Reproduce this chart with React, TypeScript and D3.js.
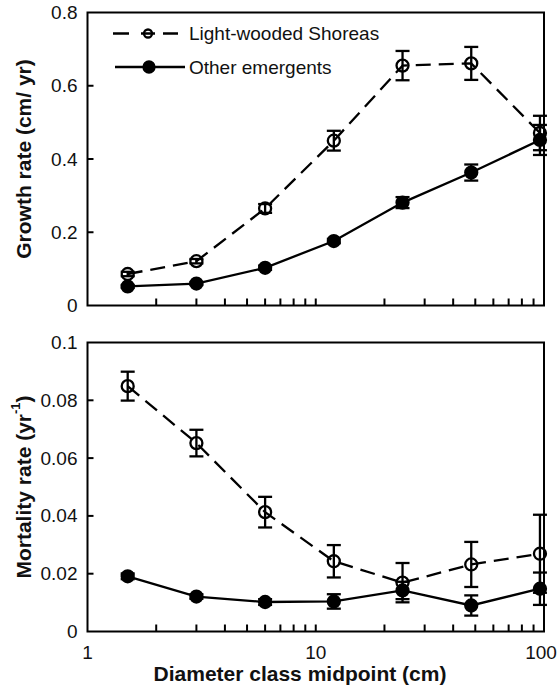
import React from "react";
import * as d3 from "d3";

const WIDTH = 558;
const HEIGHT = 686;

// diameter class midpoints (cm)
const diameters = [1.5, 3, 6, 12, 24, 48, 96];

// growth rate (cm/yr)
const growthShorea = [0.086, 0.121, 0.265, 0.45, 0.655, 0.661, 0.471];
const growthShoreaErr = [0.006, 0.006, 0.012, 0.027, 0.04, 0.045, 0.047];
const growthOther = [0.052, 0.06, 0.103, 0.176, 0.281, 0.363, 0.452];
const growthOtherErr = [0.004, 0.004, 0.006, 0.006, 0.015, 0.022, 0.041];

// mortality rate (1/yr)
const mortShorea = [0.0849, 0.0652, 0.0413, 0.0243, 0.0169, 0.0232, 0.0269];
const mortShoreaErr = [0.005, 0.0046, 0.0053, 0.0056, 0.0068, 0.0078, 0.0135];
const mortOther = [0.0191, 0.0121, 0.0102, 0.0104, 0.0142, 0.009, 0.0148];
const mortOtherErr = [0.001, 0.0008, 0.001, 0.0025, 0.003, 0.0035, 0.0056];

const growthTicks = [0, 0.2, 0.4, 0.6, 0.8];
const growthTickLabels = ["0", "0.2", "0.4", "0.6", "0.8"];
const mortTicks = [0, 0.02, 0.04, 0.06, 0.08, 0.1];
const mortTickLabels = ["0", "0.02", "0.04", "0.06", "0.08", "0.1"];
const xTickValues = [1, 10, 100];
const xTickLabels = ["1", "10", "100"];

const FONT = "'Liberation Sans', Arial, Helvetica, sans-serif";
const DASH = "15,8";
const LW = 2.3;

const x = d3.scaleLog().domain([1, 100]).range([87.5, 544]);

interface Series {
  values: number[];
  errors: number[];
  open: boolean;
}

interface PanelProps {
  top: number;
  bottom: number;
  max: number;
  ticks: number[];
  tickLabels: string[];
  series: Series[];
  showXLabels: boolean;
}

const Panel = ({ top, bottom, max, ticks, tickLabels, series, showXLabels }: PanelProps) => {
  const y = d3.scaleLinear().domain([0, max]).range([bottom, top]);
  const [x0, x1] = x.range();
  const line = d3
    .line<number>()
    .x((_, i) => x(diameters[i]))
    .y((d) => y(d));

  return (
    <g>
      {/* frame */}
      <rect x={x0} y={top} width={x1 - x0} height={bottom - top} fill="none" stroke="#000" strokeWidth={2} />

      {/* y ticks */}
      {ticks.map((t, i) => (
        <g key={`y-${i}`}>
          {i > 0 && i < ticks.length - 1 && (
            <line x1={x0} x2={x0 + 6} y1={y(t)} y2={y(t)} stroke="#000" strokeWidth={2} />
          )}
          <text
            x={x0 - 10}
            y={y(t)}
            textAnchor="end"
            dominantBaseline="central"
            fontSize={19}
            fontFamily={FONT}
            fill="#111"
          >
            {tickLabels[i]}
          </text>
        </g>
      ))}

      {/* x ticks */}
      {x
        .ticks()
        .filter((t) => t > 1 && t < 100)
        .map((t, i) => (
          <line key={`x-${i}`} x1={x(t)} x2={x(t)} y1={bottom} y2={bottom - 7} stroke="#000" strokeWidth={2} />
        ))}
      {showXLabels &&
        xTickValues.map((t, i) => (
          <text
            key={`xl-${i}`}
            x={t === 100 ? x(t) - 3 : x(t)}
            y={bottom + 21}
            textAnchor="middle"
            dominantBaseline="central"
            fontSize={19}
            fontFamily={FONT}
            fill="#111"
          >
            {xTickLabels[i]}
          </text>
        ))}

      {/* series */}
      {series.map((s, si) => (
        <g key={`s-${si}`}>
          <path
            d={line(s.values) || ""}
            fill="none"
            stroke="#000"
            strokeWidth={LW}
            strokeDasharray={s.open ? DASH : undefined}
          />
          {s.values.map((v, i) => {
            const cx = x(diameters[i]);
            const hi = y(v + s.errors[i]);
            const lo = y(v - s.errors[i]);
            return (
              <g key={`e-${i}`} stroke="#000" strokeWidth={LW}>
                <line x1={cx} x2={cx} y1={hi} y2={lo} />
                <line x1={cx - 7} x2={cx + 7} y1={hi} y2={hi} />
                <line x1={cx - 7} x2={cx + 7} y1={lo} y2={lo} />
              </g>
            );
          })}
          {s.values.map((v, i) => (
            <circle
              key={`m-${i}`}
              cx={x(diameters[i])}
              cy={y(v)}
              r={6}
              fill={s.open ? "none" : "#000"}
              stroke="#000"
              strokeWidth={LW}
            />
          ))}
        </g>
      ))}
    </g>
  );
};

export default function App() {
  return (
    <svg
      width={WIDTH}
      height={HEIGHT}
      style={{ position: "absolute", left: 0, top: 0, background: "#fff" }}
    >
      <Panel
        top={12.5}
        bottom={305.5}
        max={0.8}
        ticks={growthTicks}
        tickLabels={growthTickLabels}
        showXLabels={false}
        series={[
          { values: growthShorea, errors: growthShoreaErr, open: true },
          { values: growthOther, errors: growthOtherErr, open: false },
        ]}
      />
      <Panel
        top={342.5}
        bottom={631.5}
        max={0.1}
        ticks={mortTicks}
        tickLabels={mortTickLabels}
        showXLabels={true}
        series={[
          { values: mortShorea, errors: mortShoreaErr, open: true },
          { values: mortOther, errors: mortOtherErr, open: false },
        ]}
      />

      {/* legend */}
      <g stroke="#000" strokeWidth={LW}>
        <line x1={113} x2={178} y1={33.5} y2={33.5} strokeDasharray="16,12,14,8,15" />
        <circle cx={148} cy={33.5} r={4} fill="none" />
        <line x1={115} x2={185} y1={67} y2={67} />
        <circle cx={149} cy={67} r={5.5} fill="#000" />
      </g>
      <g fontSize={19} fontFamily={FONT} fill="#111" dominantBaseline="central">
        <text x={189} y={33.5}>Light-wooded Shoreas</text>
        <text x={189} y={67}>Other emergents</text>
      </g>

      {/* axis titles */}
      <g fontSize={21} fontWeight="bold" fontFamily={FONT} fill="#111" textAnchor="middle">
        <text transform="translate(23,159) rotate(-90)" dominantBaseline="central">
          Growth rate (cm/ yr)
        </text>
        <text transform="translate(23,487) rotate(-90)" dominantBaseline="central">
          Mortality rate (yr
          <tspan baselineShift="super" fontSize={13}>
            -1
          </tspan>
          )
        </text>
        <text x={300} y={673} dominantBaseline="central">
          Diameter class midpoint (cm)
        </text>
      </g>
    </svg>
  );
}
